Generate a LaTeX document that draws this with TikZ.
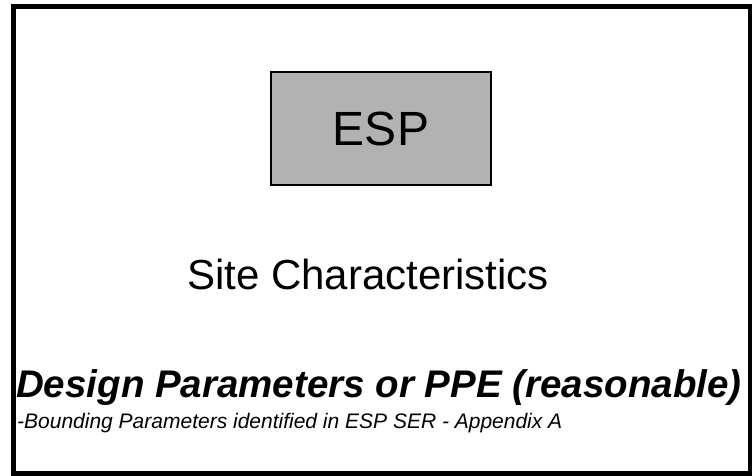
\documentclass[tikz,border=0pt]{standalone}
\usepackage{fontspec}
\setmainfont{Liberation Sans}
\begin{document}
\begin{tikzpicture}[x=1pt,y=1pt,yscale=-1]
\useasboundingbox (0,0) rectangle (752,476);

%Shape: Rectangle [id:frame]
\draw [line width=5] (13,7) rectangle (750,473);
%Shape: Rectangle [id:espbox]
\node [draw, line width=1.5, fill=black!30, minimum width=220, minimum height=113, inner sep=0, font=\fontsize{48}{58}\selectfont] (esp) at (381,128.5) {ESP};

% Text Node
\node [inner sep=0, anchor=base, font=\fontsize{42}{50}\selectfont] (site) at (368,289) {Site Characteristics};
% Text Node
\node [inner sep=0, anchor=base west, font=\fontsize{38.5}{46}\selectfont\bfseries\itshape] (ppe) at (16,397) {Design Parameters or PPE (reasonable)};
% Text Node
\node [inner sep=0, anchor=base west, font=\fontsize{21}{25}\selectfont\itshape] (ser) at (17,428) {-Bounding Parameters identified in ESP SER - Appendix A};

\end{tikzpicture}
\end{document}
